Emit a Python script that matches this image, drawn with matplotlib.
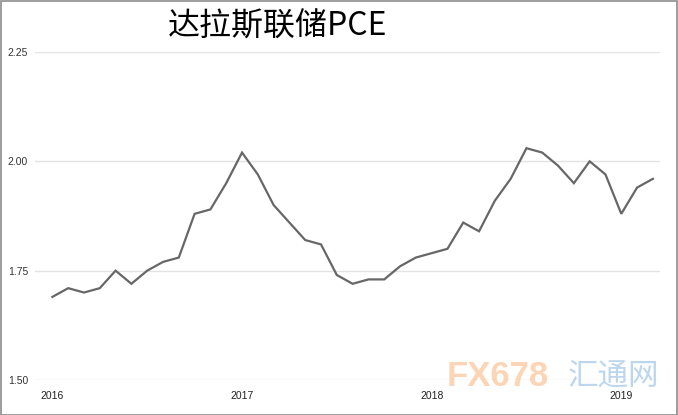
import numpy as np
import matplotlib.pyplot as plt
from matplotlib.patches import Rectangle

plt.rcParams['font.family'] = ['Liberation Sans', 'Noto Sans CJK SC', 'DejaVu Sans']

# 达拉斯联储PCE, monthly 2016-01 .. 2019-03
pce = [1.69, 1.71, 1.70, 1.71, 1.75, 1.72, 1.75, 1.77, 1.78, 1.88, 1.89, 1.95,
       2.02, 1.97, 1.90, 1.86, 1.82, 1.81, 1.74, 1.72, 1.73, 1.73, 1.76, 1.78,
       1.79, 1.80, 1.86, 1.84, 1.91, 1.96, 2.03, 2.02, 1.99, 1.95, 2.00, 1.97,
       1.88, 1.94, 1.96]
year_labels = ['2016', '2017', '2018', '2019']
y_ticks = [1.50, 1.75, 2.00, 2.25]

W, H = 678, 415
fig = plt.figure(figsize=(W/100, H/100), dpi=100)
ax = fig.add_axes([35/W, 1-380/H, 625/W, 328/H])

x = np.arange(len(pce))
ax.plot(x, pce, color='#676767', lw=1.6, solid_joinstyle='miter', zorder=3)

ax.set_xlim(-1.1, len(pce) - 1 + 0.45)
ax.set_ylim(1.5, 2.25)
ax.set_yticks(y_ticks)
ax.set_yticklabels(['%.2f' % v for v in y_ticks], fontsize=7.5, color='#333333')
ax.set_xticks([0, 12, 24, 36])
ax.set_xticklabels(year_labels, fontsize=7.5, color='#222222')
ax.tick_params(axis='y', length=0, pad=5)
ax.tick_params(axis='x', length=0, pad=8)
ax.grid(axis='y', color='#e3e3e3', lw=1)
ax.set_axisbelow(True)
for s in ax.spines.values():
    s.set_visible(False)

fig.text(278/W, 1-27/H, '达拉斯联储PCE', fontsize=23, ha='center', va='center',
         family=['Noto Sans CJK SC', 'DejaVu Sans'], color='black', fontweight='medium')

# watermark
fig.text(447/W, 1-377/H, 'FX678', fontsize=25, color='#f7a35c', alpha=0.45,
         ha='left', va='center', fontweight='bold')
fig.text(568/W, 1-376/H, '汇通网', fontsize=22, color='#6ca6d9', alpha=0.45,
         ha='left', va='center', family=['Noto Sans CJK SC', 'DejaVu Sans'])

# outer frame
fig.patches.append(Rectangle((0.5/W, 0.5/H), 1-1.5/W, 1-1.5/H, transform=fig.transFigure,
                             fill=False, ec='#8c8c8c', lw=1.2))

fig.savefig('out.png', dpi=100)
